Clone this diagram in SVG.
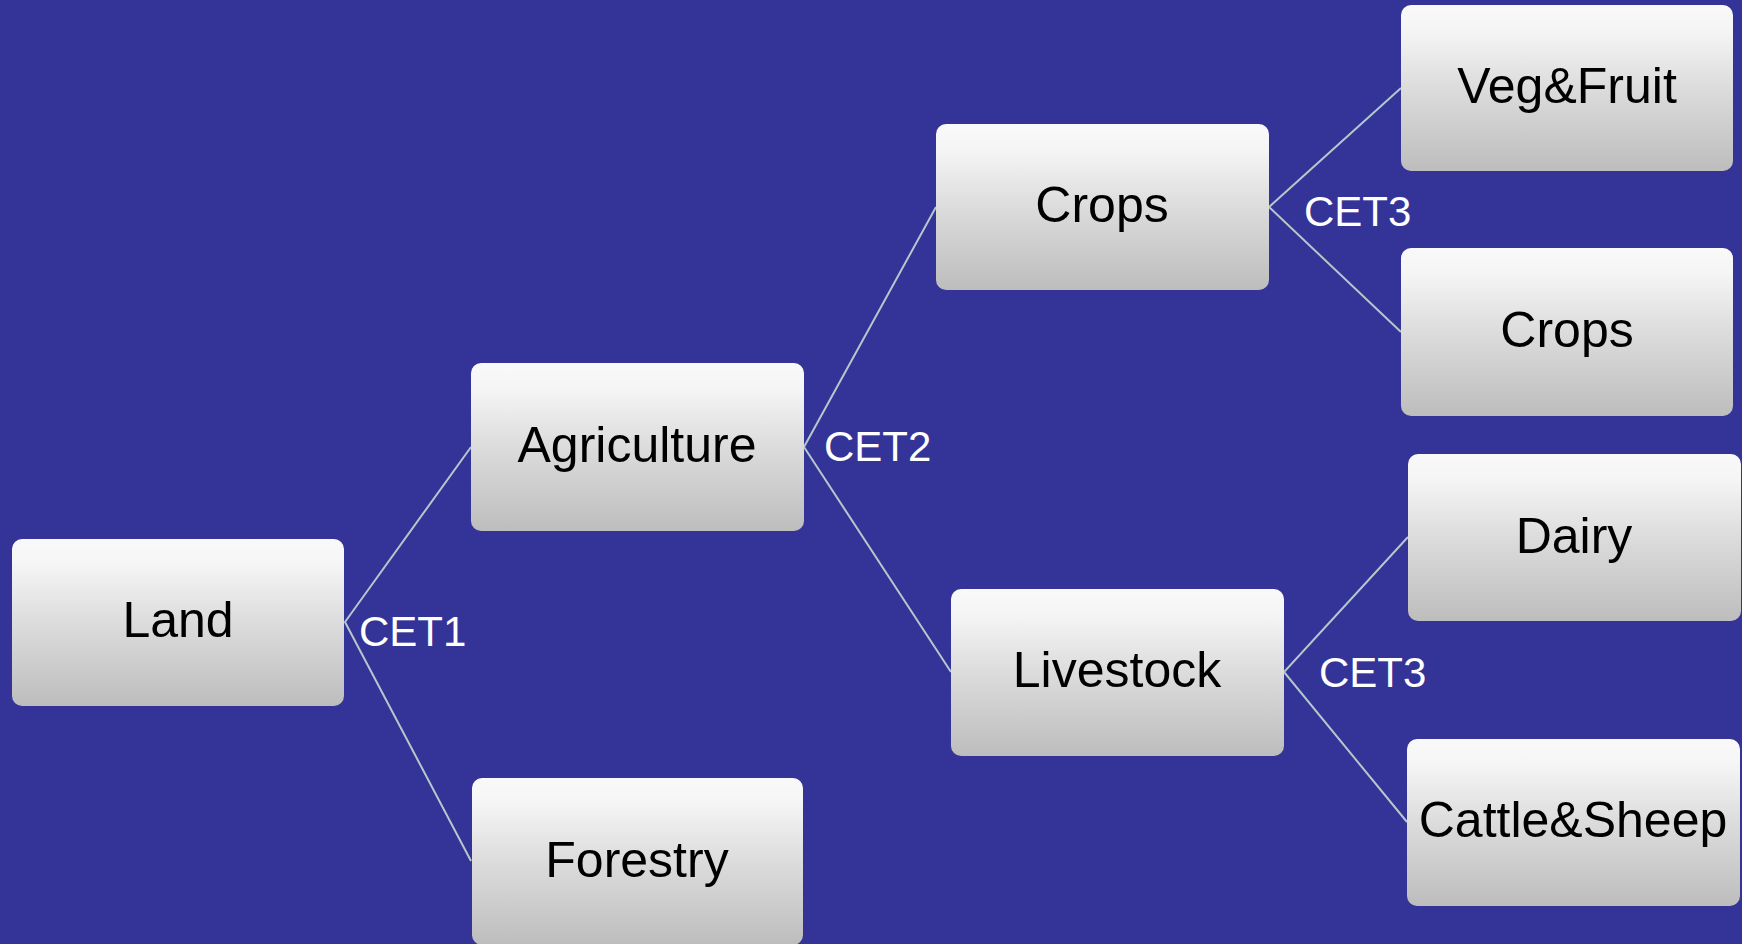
<svg xmlns="http://www.w3.org/2000/svg" width="1742" height="944" viewBox="0 0 1742 944">
<defs>
<linearGradient id="boxg" x1="0" y1="0" x2="0" y2="1">
<stop offset="0" stop-color="#f9f9f9"/>
<stop offset="0.15" stop-color="#f5f5f5"/>
<stop offset="0.5" stop-color="#dcdcdc"/>
<stop offset="1" stop-color="#bdbdbd"/>
</linearGradient>
<style>
.box{fill:url(#boxg);}
.lbl{font-family:"Liberation Sans",Arial,sans-serif;font-size:50px;fill:#000;text-anchor:middle;}
.cet{font-family:"Liberation Sans",Arial,sans-serif;font-size:42px;fill:#fff;}
.con{stroke:#b4c8cb;stroke-width:2;fill:none;}
</style>
</defs>
<rect x="0" y="0" width="1742" height="944" fill="#343398"/>
<g id="connectors">
<polyline class="con" points="471,447 345,622 471,861"/>
<polyline class="con" points="936,207 804,447 951,672"/>
<polyline class="con" points="1401,88 1269,207 1401,332"/>
<polyline class="con" points="1408,537 1284,672 1407,822"/>
</g>
<g id="edge-labels">
<text class="cet" x="359" y="646">CET1</text>
<text class="cet" x="824" y="461">CET2</text>
<text class="cet" x="1304" y="226">CET3</text>
<text class="cet" x="1319" y="687">CET3</text>
</g>
<g id="land"><rect class="box" x="12" y="539" width="332" height="167" rx="10"/><text class="lbl" x="178" y="637">Land</text></g>
<g id="agriculture"><rect class="box" x="471" y="363" width="333" height="168" rx="10"/><text class="lbl" x="637" y="462">Agriculture</text></g>
<g id="forestry"><rect class="box" x="472" y="778" width="331" height="167" rx="10"/><text class="lbl" x="637" y="877">Forestry</text></g>
<g id="crops"><rect class="box" x="936" y="124" width="333" height="166" rx="10"/><text class="lbl" x="1102" y="222">Crops</text></g>
<g id="livestock"><rect class="box" x="951" y="589" width="333" height="167" rx="10"/><text class="lbl" x="1117" y="687">Livestock</text></g>
<g id="vegfruit"><rect class="box" x="1401" y="5" width="332" height="166" rx="10"/><text class="lbl" x="1567" y="103">Veg&amp;Fruit</text></g>
<g id="crops2"><rect class="box" x="1401" y="248" width="332" height="168" rx="10"/><text class="lbl" x="1567" y="347">Crops</text></g>
<g id="dairy"><rect class="box" x="1408" y="454" width="333" height="167" rx="10"/><text class="lbl" x="1574" y="553">Dairy</text></g>
<g id="cattlesheep"><rect class="box" x="1407" y="739" width="333" height="167" rx="10"/><text class="lbl" x="1573" y="837">Cattle&amp;Sheep</text></g>
</svg>
